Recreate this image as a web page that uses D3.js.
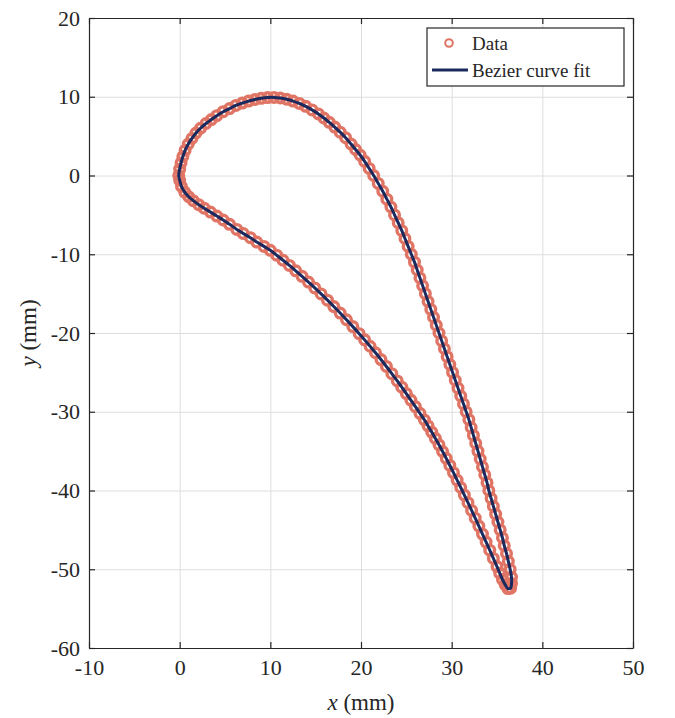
<!DOCTYPE html>
<html>
<head>
<meta charset="utf-8">
<script src="https://cdn.jsdelivr.net/npm/d3@7"></script>
<style>
  body { margin: 0; background: white; }
  text { font-family: "Liberation Serif", "DejaVu Serif", serif; fill: #262626; }
</style>
</head>
<body>
<svg id="chart" width="675" height="718"></svg>
<script>
// blade profile, suction side (leading edge -> trailing edge), values in mm
const upperSurface = [
  [-0.1, 0.0], [0.0, 0.8], [0.15, 1.6], [0.35, 2.4], [0.6, 3.2], [0.95, 4.0], [1.35, 4.7],
  [1.8, 5.4], [2.3, 6.0], [2.9, 6.6], [3.5, 7.1], [4.1, 7.6], [4.8, 8.1], [5.5, 8.5],
  [6.2, 8.9], [6.9, 9.2], [7.6, 9.45], [8.3, 9.65], [9.0, 9.8], [9.7, 9.9], [10.4, 9.92],
  [11.1, 9.84], [11.8, 9.68], [12.5, 9.45], [13.2, 9.15], [13.9, 8.78], [14.6, 8.33],
  [15.3, 7.82], [15.9, 7.3], [16.5, 6.75], [17.1, 6.15], [17.7, 5.5], [18.3, 4.8],
  [18.9, 4.0], [19.4, 3.3], [19.9, 2.6], [20.4, 1.8], [20.9, 0.9], [21.4, 0.0],
  [21.9, -1], [22.4, -2], [22.85, -3], [23.3, -4], [23.7, -5], [24.1, -6], [24.5, -7],
  [24.85, -8], [25.2, -9], [25.55, -10], [25.9, -11], [26.2, -12], [26.5, -13], [26.8, -14],
  [27.1, -15], [27.4, -16], [27.7, -17], [28.0, -18], [28.3, -19], [28.6, -20], [28.9, -21],
  [29.2, -22], [29.5, -23], [29.8, -24], [30.1, -25], [30.4, -26], [30.7, -27], [31.0, -28],
  [31.3, -29], [31.6, -30], [31.9, -31], [32.15, -32], [32.4, -33], [32.65, -34], [32.9, -35],
  [33.15, -36], [33.4, -37], [33.65, -38], [33.9, -39], [34.1, -40], [34.35, -41], [34.6, -42],
  [34.85, -43], [35.1, -44], [35.35, -45], [35.6, -46], [35.8, -47], [36.05, -48], [36.25, -49],
  [36.45, -50], [36.6, -51], [36.6, -51.8], [36.5, -52.4]
];

// pressure side (leading edge -> trailing edge)
const lowerSurface = [
  [0.0, -0.6], [0.2, -1.4], [0.55, -2.1], [1.0, -2.7], [1.5, -3.2], [2.1, -3.7], [2.7, -4.15],
  [3.4, -4.65], [4.1, -5.15], [4.8, -5.65], [5.5, -6.2], [6.3, -6.85], [7.0, -7.35], [7.8, -7.9],
  [8.5, -8.45], [9.3, -9.0], [10.0, -9.5], [10.7, -10.12], [11.4, -10.76], [12.1, -11.42],
  [12.8, -12.1], [13.5, -12.8], [14.2, -13.53], [14.9, -14.27], [15.6, -15.04], [16.3, -15.83],
  [17.0, -16.64], [17.7, -17.47], [18.4, -18.32], [19.1, -19.19], [19.8, -20.08], [20.4, -20.87],
  [21.0, -21.68], [21.6, -22.51], [22.2, -23.37], [22.8, -24.25], [23.4, -25.16], [24.0, -26.09],
  [24.5, -26.88], [25.0, -27.69], [25.5, -28.52], [26.0, -29.36], [26.5, -30.2], [27.0, -31.05],
  [27.4, -31.8], [27.8, -32.58], [28.2, -33.38], [28.6, -34.2], [29.0, -35.05], [29.4, -35.92],
  [29.8, -36.82], [30.2, -37.74], [30.6, -38.68], [31.0, -39.62], [31.4, -40.58], [31.8, -41.55],
  [32.2, -42.53], [32.6, -43.52], [33.0, -44.52], [33.4, -45.53], [33.8, -46.55], [34.2, -47.58],
  [34.6, -48.62], [35.0, -49.66], [35.3, -50.5], [35.6, -51.3], [35.9, -51.95], [36.2, -52.45]
];

const xTicks = [-10, 0, 10, 20, 30, 40, 50];
const yTicks = [-60, -50, -40, -30, -20, -10, 0, 10, 20];
const legendLabels = ['Data', 'Bezier curve fit'];

const dataColor = '#e07565';
const fitColor = '#1b2a5e';

const width = 675;
const height = 718;
const margin = { top: 18, right: 42, bottom: 70, left: 89 };
const innerW = width - margin.left - margin.right;
const innerH = height - margin.top - margin.bottom;

const svg = d3.select('#chart');
const g = svg.append('g').attr('transform', `translate(${margin.left},${margin.top})`);

const x = d3.scaleLinear().domain([-10, 50]).range([0, innerW]);
const y = d3.scaleLinear().domain([-60, 20]).range([innerH, 0]);

// grid
g.append('g')
  .attr('transform', `translate(0,${innerH})`)
  .call(d3.axisBottom(x).tickValues(xTicks).tickSize(-innerH).tickFormat(''))
  .call(s => s.select('.domain').remove())
  .call(s => s.selectAll('line').attr('stroke', '#dedede'));
g.append('g')
  .call(d3.axisLeft(y).tickValues(yTicks).tickSize(-innerW).tickFormat(''))
  .call(s => s.select('.domain').remove())
  .call(s => s.selectAll('line').attr('stroke', '#dedede'));

// data markers
const allData = upperSurface.concat(lowerSurface);
g.append('g')
  .selectAll('circle')
  .data(allData)
  .enter().append('circle')
  .attr('cx', d => x(d[0]))
  .attr('cy', d => y(d[1]))
  .attr('r', 4.8)
  .attr('fill', 'none')
  .attr('stroke', dataColor)
  .attr('stroke-width', 3.4);

// smooth closed fit through the profile
const loop = upperSurface.concat(lowerSurface.slice().reverse());
const line = d3.line()
  .x(d => x(d[0]))
  .y(d => y(d[1]))
  .curve(d3.curveCatmullRomClosed.alpha(0.5));
g.append('path')
  .datum(loop)
  .attr('d', line)
  .attr('fill', 'none')
  .attr('stroke', fitColor)
  .attr('stroke-width', 3);

// axes with inward ticks, box on all sides
const styleAxis = s => {
  s.select('.domain').attr('stroke', '#262626').attr('stroke-width', 1.2);
  s.selectAll('.tick line').attr('stroke', '#262626').attr('stroke-width', 1.2);
  s.selectAll('text').attr('font-size', 22).attr('fill', '#262626')
    .style('font-family', '"Liberation Serif", "DejaVu Serif", serif');
};
const fmt = d => d < 0 ? '-' + Math.abs(d) : String(d);

g.append('g')
  .attr('transform', `translate(0,${innerH})`)
  .call(d3.axisBottom(x).tickValues(xTicks).tickSize(-6).tickSizeOuter(0).tickPadding(11).tickFormat(fmt))
  .call(styleAxis);
g.append('g')
  .call(d3.axisLeft(y).tickValues(yTicks).tickSize(-6).tickSizeOuter(0).tickPadding(9).tickFormat(fmt))
  .call(styleAxis);
g.append('g')
  .call(d3.axisTop(x).tickValues(xTicks).tickSize(-6).tickSizeOuter(0).tickFormat(''))
  .call(styleAxis);
g.append('g')
  .attr('transform', `translate(${innerW},0)`)
  .call(d3.axisRight(y).tickValues(yTicks).tickSize(-6).tickSizeOuter(0).tickFormat(''))
  .call(styleAxis);

// axis labels
const xl = svg.append('text')
  .attr('x', margin.left + innerW / 2)
  .attr('y', 710)
  .attr('text-anchor', 'middle')
  .attr('font-size', 23);
xl.append('tspan').attr('font-style', 'italic').text('x');
xl.append('tspan').text(' (mm)');

const yl = svg.append('text')
  .attr('transform', `translate(36,${margin.top + innerH / 2}) rotate(-90)`)
  .attr('text-anchor', 'middle')
  .attr('font-size', 23);
yl.append('tspan').attr('font-style', 'italic').text('y');
yl.append('tspan').text(' (mm)');

// legend
const lg = svg.append('g').attr('transform', 'translate(427,28)');
lg.append('rect')
  .attr('width', 197).attr('height', 58)
  .attr('fill', 'white').attr('stroke', '#262626').attr('stroke-width', 1.2);
lg.append('circle')
  .attr('cx', 22).attr('cy', 15).attr('r', 3.8)
  .attr('fill', 'none').attr('stroke', dataColor).attr('stroke-width', 2);
lg.append('line')
  .attr('x1', 5).attr('x2', 41).attr('y1', 42).attr('y2', 42)
  .attr('stroke', fitColor).attr('stroke-width', 3);
lg.selectAll('text.lbl')
  .data(legendLabels)
  .enter().append('text')
  .attr('class', 'lbl')
  .attr('x', 45)
  .attr('y', (d, i) => 15 + i * 27)
  .attr('dy', '0.35em')
  .attr('font-size', 19)
  .text(d => d);
</script>
</body>
</html>
